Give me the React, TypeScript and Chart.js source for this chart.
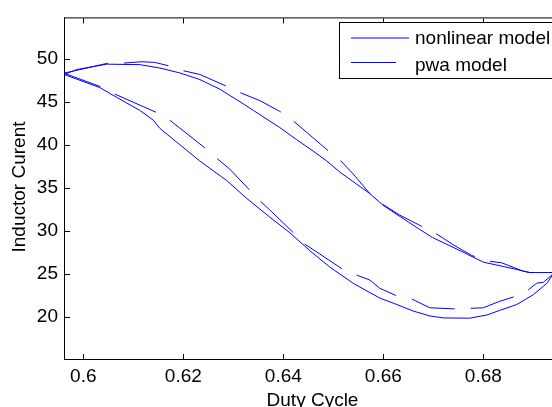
import React, { useEffect, useRef } from "react";
import { Chart, registerables } from "chart.js";

Chart.register(...registerables);

const FONT = '"Liberation Sans", Arial, Helvetica, sans-serif';

// Axis configuration
const xTicks = [0.6, 0.62, 0.64, 0.66, 0.68];
const yTicks = [20, 25, 30, 35, 40, 45, 50];
const xRange = [0.59614, 0.69374];
const yRange = [15.07, 54.82];
const xTitle = "Duty Cycle";
const yTitle = "Inductor Curent";
const seriesNames = ["nonlinear model", "pwa model"];

// nonlinear model (solid) – upper branch, left to right
const nonlinearUpperX = [0.59614, 0.5987, 0.6047, 0.6113, 0.6153, 0.6193, 0.6233, 0.6273, 0.632, 0.634, 0.6393, 0.6427, 0.646, 0.6487, 0.6513, 0.6573, 0.6599, 0.6633, 0.6673, 0.6699, 0.6733, 0.6767, 0.68, 0.686, 0.6893, 0.69374];
const nonlinearUpperY = [48.18, 48.75, 49.38, 49.32, 48.93, 48.36, 47.59, 46.47, 44.76, 44.0, 42.0, 40.58, 39.25, 38.11, 36.82, 34.32, 32.98, 31.66, 30.14, 29.19, 28.25, 27.29, 26.34, 25.58, 25.13, 25.13];

// nonlinear model (solid) – lower branch, left to right
const nonlinearLowerX = [0.59614, 0.6033, 0.6067, 0.6113, 0.614, 0.6153, 0.6193, 0.6233, 0.626, 0.6287, 0.6327, 0.6373, 0.6413, 0.6453, 0.6493, 0.654, 0.6593, 0.6627, 0.666, 0.6693, 0.672, 0.6773, 0.6807, 0.6833, 0.6867, 0.69, 0.6927, 0.69374];
const nonlinearLowerY = [48.18, 46.65, 45.51, 44.0, 42.86, 41.91, 40.01, 38.11, 36.97, 35.83, 33.75, 31.58, 29.76, 27.68, 25.77, 23.87, 22.16, 21.41, 20.65, 20.08, 19.85, 19.82, 20.19, 20.73, 21.41, 22.55, 23.87, 24.75];

// pwa model (dashed) – upper branch, left to right
const pwaUpperX = [0.59614, 0.6047, 0.608, 0.6117, 0.6143, 0.617, 0.6199, 0.6233, 0.6285, 0.6313, 0.6353, 0.6393, 0.642, 0.6487, 0.6513, 0.654, 0.6573, 0.6599, 0.6633, 0.6673, 0.6703, 0.6739, 0.6777, 0.681, 0.6837, 0.688, 0.6893, 0.69374];
const pwaUpperY = [48.33, 49.46, 49.5, 49.66, 49.58, 49.2, 48.63, 48.18, 46.85, 46.08, 45.14, 43.88, 42.78, 39.44, 38.25, 36.59, 34.32, 33.06, 31.81, 30.62, 29.76, 28.39, 27.11, 26.46, 26.26, 25.28, 25.13, 25.13];

// pwa model (dashed) – lower branch, left to right
const pwaLowerX = [0.59614, 0.6033, 0.6063, 0.6147, 0.6173, 0.6243, 0.6267, 0.6293, 0.6332, 0.6353, 0.6373, 0.6419, 0.6443, 0.6473, 0.6517, 0.6547, 0.6573, 0.6593, 0.6625, 0.6657, 0.6693, 0.674, 0.6772, 0.68, 0.6833, 0.686, 0.689, 0.6907, 0.692, 0.69374];
const pwaLowerY = [48.33, 46.79, 45.9, 43.74, 42.86, 39.64, 38.42, 37.16, 34.77, 33.49, 32.41, 29.84, 28.43, 27.29, 25.58, 24.83, 24.26, 23.3, 22.47, 22.05, 21.03, 20.91, 20.96, 21.03, 21.79, 22.28, 23.12, 23.9, 23.99, 24.86];

const LINE_COLOR = "#0000ff";
const DASH = [45, 16];

function pts(xs: number[], ys: number[]) {
  return xs.map((x, i) => ({ x, y: ys[i] }));
}

const framePlugin = {
  id: "matlabFrame",
  afterDraw(chart: any) {
    const { ctx, chartArea: a, scales } = chart;
    const xs = scales.x;
    const ys = scales.y;
    ctx.save();
    ctx.strokeStyle = "#000";
    ctx.lineWidth = 1;
    ctx.setLineDash([]);
    ctx.beginPath();
    ctx.moveTo(a.left, a.top + 0.5);
    ctx.lineTo(a.right, a.top + 0.5);
    ctx.moveTo(a.left + 0.5, a.top);
    ctx.lineTo(a.left + 0.5, a.bottom + 1);
    ctx.moveTo(a.left, a.bottom + 0.5);
    ctx.lineTo(a.right, a.bottom + 0.5);
    const tl = 5;
    xTicks.forEach((v) => {
      const px = Math.round(xs.getPixelForValue(v)) + 0.5;
      ctx.moveTo(px, a.bottom);
      ctx.lineTo(px, a.bottom - tl);
      ctx.moveTo(px, a.top + 1);
      ctx.lineTo(px, a.top + 1 + tl);
    });
    yTicks.forEach((v) => {
      const py = Math.round(ys.getPixelForValue(v)) + 0.5;
      ctx.moveTo(a.left + 1, py);
      ctx.lineTo(a.left + 1 + tl, py);
    });
    ctx.stroke();

    // axis titles
    ctx.fillStyle = "#000";
    ctx.font = `19px ${FONT}`;
    ctx.textAlign = "center";
    ctx.textBaseline = "alphabetic";
    ctx.fillText(xTitle, 312.5, 406);
    ctx.save();
    ctx.translate(25, 187);
    ctx.rotate(-Math.PI / 2);
    ctx.fillText(yTitle, 0, 0);
    ctx.restore();

    // legend
    const lx = 339.5;
    const ly = 22.5;
    ctx.fillStyle = "#fff";
    ctx.fillRect(lx, ly, 300, 56);
    ctx.strokeStyle = "#000";
    ctx.strokeRect(lx, ly, 300, 56);
    ctx.strokeStyle = LINE_COLOR;
    ctx.beginPath();
    ctx.moveTo(351, 38);
    ctx.lineTo(409, 38);
    ctx.stroke();
    ctx.setLineDash(DASH);
    ctx.beginPath();
    ctx.moveTo(351, 62.5);
    ctx.lineTo(409, 62.5);
    ctx.stroke();
    ctx.setLineDash([]);
    ctx.fillStyle = "#000";
    ctx.textAlign = "left";
    ctx.fillText(seriesNames[0], 415, 44);
    ctx.fillText(seriesNames[1], 415, 70.8);
    ctx.restore();
  },
};

export default function App() {
  const ref = useRef<HTMLCanvasElement | null>(null);

  useEffect(() => {
    document.body.style.margin = "0";
    const canvas = ref.current;
    if (!canvas) return;
    const common = {
      borderColor: LINE_COLOR,
      borderWidth: 1,
      pointRadius: 0,
      showLine: true,
      tension: 0,
      fill: false,
    };
    const chart = new Chart(canvas, {
      type: "scatter",
      data: {
        datasets: [
          { ...common, label: seriesNames[0], data: pts(nonlinearUpperX, nonlinearUpperY) },
          { ...common, label: seriesNames[0], data: pts(nonlinearLowerX, nonlinearLowerY) },
          { ...common, label: seriesNames[1], data: pts(pwaUpperX, pwaUpperY), borderDash: DASH, borderDashOffset: 0 },
          { ...common, label: seriesNames[1], data: pts(pwaLowerX, pwaLowerY), borderDash: DASH, borderDashOffset: 6 },
        ],
      },
      options: {
        animation: false,
        responsive: false,
        devicePixelRatio: 1,
        events: [],
        layout: { padding: { top: 10, right: 0, bottom: 0, left: 0 } },
        plugins: {
          legend: { display: false },
          tooltip: { enabled: false },
          title: { display: false },
        },
        scales: {
          x: {
            type: "linear",
            min: xRange[0],
            max: xRange[1],
            grid: { display: false, drawTicks: false },
            border: { display: false },
            ticks: {
              stepSize: 0.02,
              includeBounds: false,
              padding: 6,
              color: "#000",
              font: { family: FONT, size: 19 },
              maxRotation: 0,
              autoSkip: false,
              callback: (v: any) => String(Number(Number(v).toFixed(2))),
            },
            afterFit: (s: any) => {
              s.height = 48;
            },
          },
          y: {
            type: "linear",
            min: yRange[0],
            max: yRange[1],
            grid: { display: false, drawTicks: false },
            border: { display: false },
            ticks: {
              stepSize: 5,
              includeBounds: false,
              padding: 6,
              color: "#000",
              font: { family: FONT, size: 19 },
              autoSkip: false,
              callback: (v: any) => String(Number(v)),
            },
            afterFit: (s: any) => {
              s.width = 64;
            },
          },
        },
      },
      plugins: [framePlugin],
    } as any);
    return () => chart.destroy();
  }, []);

  return (
    <div style={{ width: 552, height: 407, background: "#fff" }}>
      <canvas ref={ref} width={552} height={407} />
    </div>
  );
}
